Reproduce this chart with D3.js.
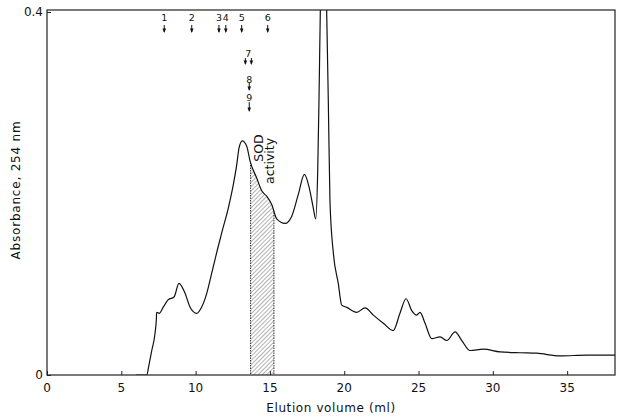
<!DOCTYPE html>
<html>
<head>
<meta charset="utf-8">
<script src="https://cdn.jsdelivr.net/npm/d3@7"></script>
<style>
    body { margin: 0; background: #fff; }
    svg { display: block; }
    text { font-family: "DejaVu Sans", sans-serif; fill: #111; }
</style>
</head>
<body>
<svg width="620" height="418"></svg>
<script>
// elution volume (ml) and absorbance at 254 nm
const volume = [6.0, 6.71, 6.86, 7.05, 7.27, 7.36, 7.38, 7.56, 7.83, 8.16, 8.55, 8.88, 9.29, 9.62,
    10.07, 10.41, 10.75, 11.08, 11.42, 11.76, 12.20, 12.54, 12.77, 12.92, 13.14, 13.44, 13.66,
    14.11, 14.45, 14.78, 15.12, 15.46, 16.02, 16.47, 16.91, 17.32, 17.65, 17.92, 18.08, 18.22,
    18.30, 18.39, 18.61, 18.82, 18.93, 19.04, 19.27, 19.60, 19.83, 20.17, 20.84, 21.40, 21.96,
    22.63, 23.30, 23.75, 24.16, 24.54, 24.88, 25.10, 25.44, 25.89, 26.45, 26.90, 27.46, 27.91,
    28.47, 29.36, 30.48, 31.83, 32.95, 34.52, 36.32, 38.22];
const absorbance = [0, 0, 0.011, 0.027, 0.046, 0.062, 0.069, 0.068, 0.075, 0.083, 0.086, 0.101,
    0.090, 0.075, 0.068, 0.075, 0.090, 0.112, 0.135, 0.157, 0.184, 0.210, 0.232, 0.250, 0.258,
    0.252, 0.236, 0.217, 0.203, 0.197, 0.188, 0.172, 0.167, 0.175, 0.199, 0.221, 0.206, 0.184,
    0.172, 0.228, 0.301, 0.400, 0.56, 0.400, 0.301, 0.192, 0.134, 0.101, 0.077, 0.0745, 0.069,
    0.074, 0.066, 0.057, 0.049, 0.068, 0.084, 0.071, 0.066, 0.069, 0.057, 0.040, 0.042, 0.038,
    0.0475, 0.038, 0.027, 0.0285, 0.0255, 0.0245, 0.024, 0.021, 0.022, 0.022];

// fraction with SOD activity (ml)
const sodRange = [13.7, 15.27];

// marker proteins: label, elution volume, row
const markerLabels = ["1", "2", "3", "4", "5", "6", "7", "8", "9"];
const markerVolumes = [7.89, 9.74, 11.57, 12.03, 13.10, 14.85, 13.55, 13.61, 13.61];
const markerRows = [0, 0, 0, 0, 0, 0, 1, 2, 3];

const xTicks = [0, 5, 10, 15, 20, 25, 30, 35];
const yTicks = [0, 0.4];

const svg = d3.select("svg");
const plotLeft = 47, plotRight = 615, plotTop = 10, plotBottom = 375;

const x = d3.scaleLinear().domain([0, 38.22]).range([plotLeft, plotRight]);
const y = d3.scaleLinear().domain([0, 0.4]).range([plotBottom, plotTop + 2]);

const data = volume.map((v, i) => ({v: v, a: absorbance[i]}));

const defs = svg.append("defs");
defs.append("clipPath").attr("id", "plot")
    .append("rect")
    .attr("x", plotLeft).attr("y", plotTop)
    .attr("width", plotRight - plotLeft).attr("height", plotBottom - plotTop);

const hatch = defs.append("pattern")
    .attr("id", "hatch")
    .attr("patternUnits", "userSpaceOnUse")
    .attr("width", 3).attr("height", 3)
    .attr("patternTransform", "rotate(45)");
hatch.append("line")
    .attr("x1", 0).attr("y1", 0).attr("x2", 0).attr("y2", 3)
    .attr("stroke", "#666").attr("stroke-width", 1);

defs.append("clipPath").attr("id", "sod")
    .append("rect")
    .attr("x", x(sodRange[0])).attr("y", plotTop)
    .attr("width", x(sodRange[1]) - x(sodRange[0])).attr("height", plotBottom - plotTop);

const curve = d3.curveMonotoneX;

const area = d3.area()
    .x(d => x(d.v))
    .y0(y(0))
    .y1(d => y(d.a))
    .curve(curve);

defs.append("clipPath").attr("id", "under")
    .append("path")
    .attr("d", area(data));

// hatched SOD fraction
svg.append("path")
    .attr("d", area(data))
    .attr("fill", "url(#hatch)")
    .attr("clip-path", "url(#sod)");

svg.append("g")
    .attr("clip-path", "url(#under)")
    .selectAll("line")
    .data(sodRange)
    .join("line")
    .attr("x1", d => x(d)).attr("x2", d => x(d))
    .attr("y1", plotTop).attr("y2", plotBottom)
    .attr("stroke", "#333")
    .attr("stroke-width", 1)
    .attr("stroke-dasharray", "1.5,1");

// trace
svg.append("path")
    .attr("d", d3.line().x(d => x(d.v)).y(d => y(d.a)).curve(curve)(data))
    .attr("fill", "none")
    .attr("stroke", "#111")
    .attr("stroke-width", 1.2)
    .attr("clip-path", "url(#plot)");

// frame
svg.append("rect")
    .attr("x", plotLeft).attr("y", plotTop)
    .attr("width", plotRight - plotLeft).attr("height", plotBottom - plotTop)
    .attr("fill", "none")
    .attr("stroke", "#222")
    .attr("stroke-width", 1.2);

// axes, ticks pointing inward
svg.append("g")
    .attr("transform", `translate(0,${plotBottom})`)
    .call(d3.axisTop(x).tickValues(xTicks).tickSize(4).tickFormat(""))
    .call(g => g.select(".domain").remove())
    .call(g => g.selectAll("line").attr("stroke", "#222"));

svg.append("g")
    .selectAll("text")
    .data(xTicks)
    .join("text")
    .attr("x", d => x(d))
    .attr("y", plotBottom + 17)
    .attr("text-anchor", "middle")
    .attr("font-size", 12)
    .text(d => d);

svg.append("g")
    .attr("transform", `translate(${plotLeft},0)`)
    .call(d3.axisRight(y).tickValues(yTicks).tickSize(4).tickFormat(""))
    .call(g => g.select(".domain").remove())
    .call(g => g.selectAll("line").attr("stroke", "#222"));

svg.append("g")
    .selectAll("text")
    .data(yTicks)
    .join("text")
    .attr("x", plotLeft - 4)
    .attr("y", d => y(d) + 4)
    .attr("text-anchor", "end")
    .attr("font-size", 12)
    .text(d => d === 0 ? "0" : d3.format(".1f")(d));

svg.append("text")
    .attr("x", (plotLeft + plotRight) / 2)
    .attr("y", 412)
    .attr("text-anchor", "middle")
    .attr("font-size", 12)
    .attr("letter-spacing", 0.6)
    .text("Elution volume (ml)");

svg.append("text")
    .attr("transform", "translate(20,190) rotate(-90)")
    .attr("text-anchor", "middle")
    .attr("font-size", 12)
    .attr("letter-spacing", 0.8)
    .text("Absorbance, 254 nm");

// SOD activity label, reading upward
svg.append("text")
    .attr("transform", "translate(262.5,148) rotate(-90)")
    .attr("text-anchor", "middle")
    .attr("font-size", 12.5)
    .text("SOD");
svg.append("text")
    .attr("transform", "translate(274,161) rotate(-90)")
    .attr("text-anchor", "middle")
    .attr("font-size", 12.5)
    .text("activity");

// marker arrows: label centre and arrow span per row
const rowLabelY = [17, 53, 79, 97];
const rowArrow = [[8, 16], [5, 12], [4, 12], [5, 15]];
const markers = svg.append("g");
markerLabels.forEach((lab, i) => {
    const cx = x(markerVolumes[i]);
    const row = markerRows[i];
    const ly = rowLabelY[row];
    const y1 = ly + rowArrow[row][0], y2 = ly + rowArrow[row][1];
    markers.append("text")
        .attr("x", cx)
        .attr("y", ly + 3.5)
        .attr("text-anchor", "middle")
        .attr("font-size", 9.5)
        .text(lab);
    const shafts = lab === "7" ? [cx - 3, cx + 3] : [cx];
    shafts.forEach(sx => {
        markers.append("line")
            .attr("x1", sx).attr("x2", sx)
            .attr("y1", y1).attr("y2", y2 - 1)
            .attr("stroke", "#111").attr("stroke-width", 1);
        markers.append("path")
            .attr("d", `M${sx - 1.8},${y2 - 4.5}L${sx + 1.8},${y2 - 4.5}L${sx},${y2}Z`)
            .attr("fill", "#111");
    });
});
</script>
</body>
</html>
